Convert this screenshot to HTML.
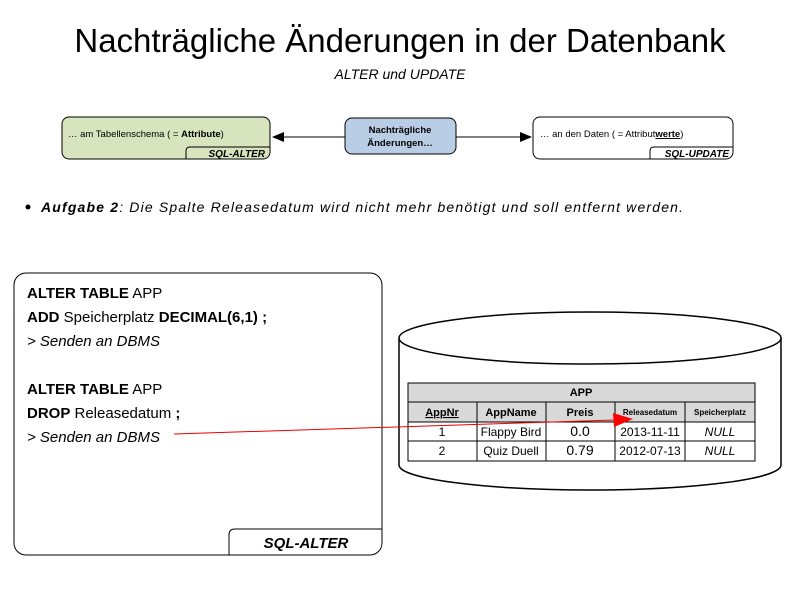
<!DOCTYPE html><html><head><meta charset="utf-8"><style>
body{margin:0;width:800px;height:600px;background:#fff;overflow:hidden;font-family:"Liberation Sans",sans-serif}
</style></head><body>
<svg width="800" height="600" xmlns="http://www.w3.org/2000/svg" font-family="Liberation Sans, sans-serif">
<text x="400" y="52" text-anchor="middle" font-size="33">Nachträgliche Änderungen in der Datenbank</text>
<text x="400" y="79" text-anchor="middle" font-size="14" font-style="italic">ALTER und UPDATE</text>
<rect x="62" y="117" width="208" height="42" rx="7" fill="#d7e4bd" stroke="#000"/>
<text x="68" y="137" font-size="9.5">… am Tabellenschema ( = <tspan font-weight="bold">Attribute</tspan>)</text>
<path d="M186 159 V151 Q186 147 190 147 H270" fill="none" stroke="#000"/>
<text x="265" y="157" text-anchor="end" font-size="10" font-weight="bold" font-style="italic">SQL-ALTER</text>
<rect x="345" y="118" width="111" height="36" rx="7" fill="#b9cde5" stroke="#000"/>
<text x="400" y="133" text-anchor="middle" font-size="9.5" font-weight="bold">Nachträgliche</text>
<text x="400" y="146" text-anchor="middle" font-size="9.5" font-weight="bold">Änderungen…</text>
<line x1="345" y1="137" x2="282" y2="137" stroke="#000"/><polygon points="272,137 284,132 284,142"/>
<line x1="456" y1="137" x2="522" y2="137" stroke="#000"/><polygon points="532,137 520,132 520,142"/>
<rect x="533" y="117" width="200" height="42" rx="7" fill="#fff" stroke="#000"/>
<text x="540" y="137" font-size="9.5">… an den Daten ( = Attribut<tspan font-weight="bold" text-decoration="underline">werte</tspan>)</text>
<path d="M650 159 V151 Q650 147 654 147 H733" fill="none" stroke="#000"/>
<text x="729" y="157" text-anchor="end" font-size="10" font-weight="bold" font-style="italic">SQL-UPDATE</text>
<circle cx="28" cy="207" r="2.5"/>
<text x="41" y="212" font-size="14" font-style="italic" textLength="642" lengthAdjust="spacing"><tspan font-weight="bold">Aufgabe 2</tspan>: Die Spalte Releasedatum wird nicht mehr benötigt und soll entfernt werden.</text>
<rect x="14" y="273" width="368" height="282" rx="12" fill="#fff" stroke="#000"/>
<path d="M229 555 V535 Q229 529 235 529 H382" fill="none" stroke="#000"/>
<text x="306" y="548" text-anchor="middle" font-size="15" font-weight="bold" font-style="italic">SQL-ALTER</text>
<g font-size="15">
<text x="27" y="298"><tspan font-weight="bold">ALTER TABLE</tspan> APP</text>
<text x="27" y="322"><tspan font-weight="bold">ADD</tspan> Speicherplatz <tspan font-weight="bold">DECIMAL(6,1) ;</tspan></text>
<text x="27" y="346" font-style="italic">&gt; Senden an DBMS</text>
<text x="27" y="394"><tspan font-weight="bold">ALTER TABLE</tspan> APP</text>
<text x="27" y="418"><tspan font-weight="bold">DROP</tspan> Releasedatum <tspan font-weight="bold">;</tspan></text>
<text x="27" y="442" font-style="italic">&gt; Senden an DBMS</text>
</g>
<path d="M399 338 V465 A191 25 0 0 0 781 465 V338" fill="#fff" stroke="#000" stroke-width="1.5"/>
<ellipse cx="590" cy="338" rx="191" ry="26" fill="#fff" stroke="#000" stroke-width="1.5"/>
<g stroke="#000" fill="none">
<rect x="408" y="383" width="347" height="78" fill="#fff"/>
<rect x="408" y="383" width="347" height="39" fill="#d9d9d9"/>
<line x1="408" y1="402" x2="755" y2="402"/><line x1="408" y1="422" x2="755" y2="422"/><line x1="408" y1="441" x2="755" y2="441"/>
<line x1="477" y1="402" x2="477" y2="461"/><line x1="546" y1="402" x2="546" y2="461"/><line x1="615" y1="402" x2="615" y2="461"/><line x1="685" y1="402" x2="685" y2="461"/>
</g>
<g font-size="12" text-anchor="middle">
<text x="581" y="396" font-size="11" font-weight="bold">APP</text>
<text x="442" y="416" font-size="11" font-weight="bold" text-decoration="underline">AppNr</text>
<text x="511" y="416" font-size="11" font-weight="bold">AppName</text>
<text x="580" y="416" font-size="11" font-weight="bold">Preis</text>
<text x="650" y="415" font-size="8" font-weight="bold">Releasedatum</text>
<text x="720" y="415" font-size="8" font-weight="bold">Speicherplatz</text>
<text x="442" y="436">1</text><text x="511" y="436">Flappy Bird</text><text x="580" y="436" font-size="14">0.0</text><text x="650" y="436">2013-11-11</text><text x="720" y="436" font-style="italic">NULL</text>
<text x="442" y="455">2</text><text x="511" y="455">Quiz Duell</text><text x="580" y="455" font-size="14">0.79</text><text x="650" y="455">2012-07-13</text><text x="720" y="455" font-style="italic">NULL</text>
</g>
<line x1="174" y1="434" x2="616" y2="420" stroke="#e00" stroke-width="1"/>
<polygon points="633,419 613,413 614,427" fill="#f00"/>
</svg>
</body></html>
